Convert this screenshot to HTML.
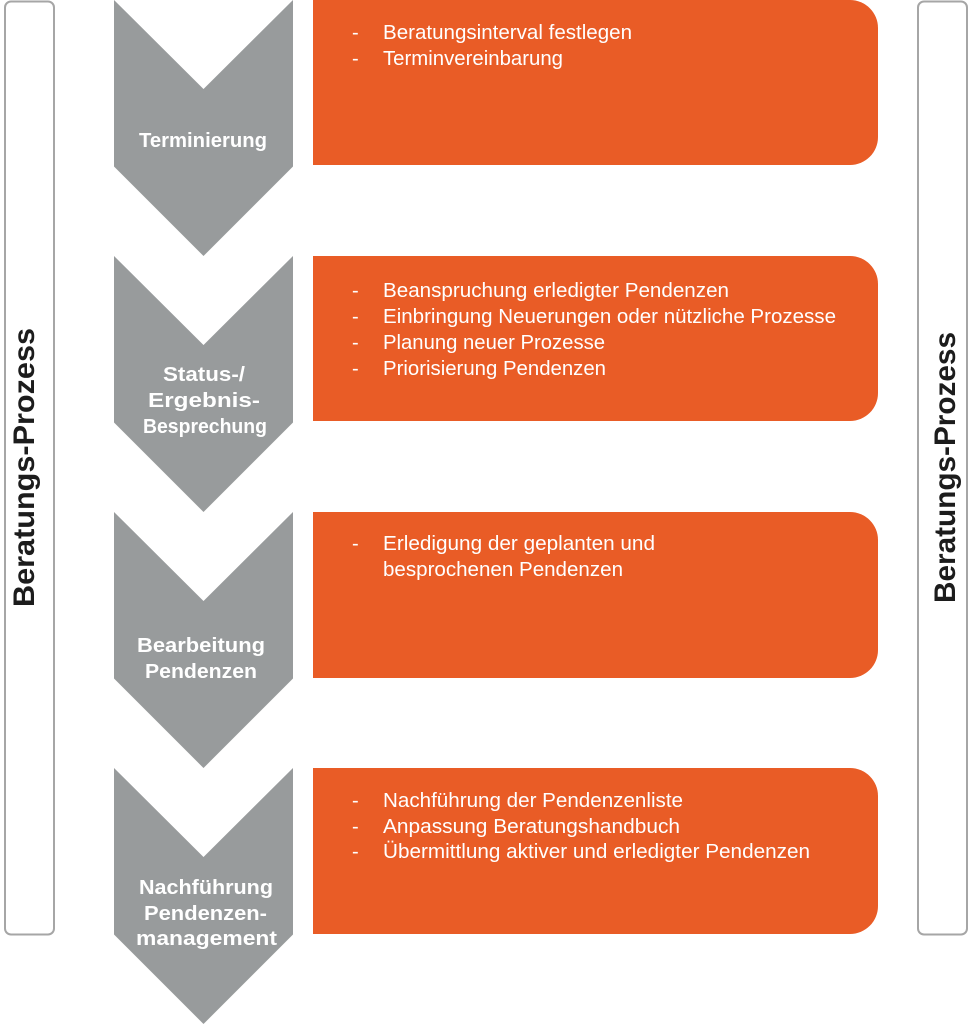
<!DOCTYPE html>
<html>
<head>
<meta charset="utf-8">
<style>
  html, body { margin: 0; padding: 0; background: #ffffff; }
  body { width: 972px; height: 1024px; overflow: hidden; }
  svg { display: block; }
  .o { font-family: "Liberation Sans", sans-serif; font-size: 20px; fill: #ffffff; }
  .l { font-family: "Liberation Sans", sans-serif; font-size: 20px; font-weight: bold; fill: #ffffff; }
  .v { font-family: "Liberation Sans", sans-serif; font-size: 30px; font-weight: bold; fill: #1c1c1c; }
</style>
</head>
<body>
<svg width="972" height="1024" viewBox="0 0 972 1024" xmlns="http://www.w3.org/2000/svg">
  <!-- side frames -->
  <rect x="5" y="1.5" width="49" height="933" rx="6" ry="6" fill="#ffffff" stroke="#a6a6a6" stroke-width="2"/>
  <rect x="918" y="1.5" width="49" height="933" rx="6" ry="6" fill="#ffffff" stroke="#a6a6a6" stroke-width="2"/>

  <text class="v" transform="translate(34,467.5) rotate(-90)" text-anchor="middle" textLength="279" lengthAdjust="spacingAndGlyphs">Beratungs-Prozess</text>
  <text class="v" transform="translate(955,467.5) rotate(-90)" text-anchor="middle" textLength="271" lengthAdjust="spacingAndGlyphs">Beratungs-Prozess</text>

  <!-- chevrons -->
  <g fill="#989b9c">
    <polygon points="114,0 203.5,89 293,0 293,166.5 203.5,256 114,166.5"/>
    <polygon points="114,256 203.5,345 293,256 293,422.5 203.5,512 114,422.5"/>
    <polygon points="114,512 203.5,601 293,512 293,678.5 203.5,768 114,678.5"/>
    <polygon points="114,768 203.5,857 293,768 293,934.5 203.5,1024 114,934.5"/>
  </g>

  <!-- orange boxes -->
  <g fill="#e95c26">
    <path d="M313,0 H850 A28,28 0 0 1 878,28 V137 A28,28 0 0 1 850,165 H313 Z"/>
    <path d="M313,256 H850 A28,28 0 0 1 878,284 V393 A28,28 0 0 1 850,421 H313 Z"/>
    <path d="M313,512 H850 A28,28 0 0 1 878,540 V650 A28,28 0 0 1 850,678 H313 Z"/>
    <path d="M313,768 H850 A28,28 0 0 1 878,796 V906 A28,28 0 0 1 850,934 H313 Z"/>
  </g>

  <!-- chevron labels -->
  <text class="l" x="139" y="147" textLength="128" lengthAdjust="spacingAndGlyphs">Terminierung</text>

  <text class="l" x="163" y="381" textLength="82" lengthAdjust="spacingAndGlyphs">Status-/</text>
  <text class="l" x="148" y="407" textLength="112" lengthAdjust="spacingAndGlyphs">Ergebnis-</text>
  <text class="l" x="143" y="433" textLength="124" lengthAdjust="spacingAndGlyphs">Besprechung</text>

  <text class="l" x="137" y="652" textLength="128" lengthAdjust="spacingAndGlyphs">Bearbeitung</text>
  <text class="l" x="145" y="678" textLength="112" lengthAdjust="spacingAndGlyphs">Pendenzen</text>

  <text class="l" x="139" y="894" textLength="134" lengthAdjust="spacingAndGlyphs">Nachführung</text>
  <text class="l" x="144" y="920" textLength="123" lengthAdjust="spacingAndGlyphs">Pendenzen-</text>
  <text class="l" x="136" y="945" textLength="141" lengthAdjust="spacingAndGlyphs">management</text>

  <!-- box 1 -->
  <text class="o" x="352" y="39">-</text>
  <text class="o" x="383" y="39" textLength="249" lengthAdjust="spacingAndGlyphs">Beratungsinterval festlegen</text>
  <text class="o" x="352" y="65">-</text>
  <text class="o" x="383" y="65" textLength="180" lengthAdjust="spacingAndGlyphs">Terminvereinbarung</text>

  <!-- box 2 -->
  <text class="o" x="352" y="297">-</text>
  <text class="o" x="383" y="297" textLength="346" lengthAdjust="spacingAndGlyphs">Beanspruchung erledigter Pendenzen</text>
  <text class="o" x="352" y="323">-</text>
  <text class="o" x="383" y="323" textLength="453" lengthAdjust="spacingAndGlyphs">Einbringung Neuerungen oder nützliche Prozesse</text>
  <text class="o" x="352" y="349">-</text>
  <text class="o" x="383" y="349" textLength="222" lengthAdjust="spacingAndGlyphs">Planung neuer Prozesse</text>
  <text class="o" x="352" y="375">-</text>
  <text class="o" x="383" y="375" textLength="223" lengthAdjust="spacingAndGlyphs">Priorisierung Pendenzen</text>

  <!-- box 3 -->
  <text class="o" x="352" y="550">-</text>
  <text class="o" x="383" y="550" textLength="272" lengthAdjust="spacingAndGlyphs">Erledigung der geplanten und</text>
  <text class="o" x="383" y="576" textLength="240" lengthAdjust="spacingAndGlyphs">besprochenen Pendenzen</text>

  <!-- box 4 -->
  <text class="o" x="352" y="807">-</text>
  <text class="o" x="383" y="807" textLength="300" lengthAdjust="spacingAndGlyphs">Nachführung der Pendenzenliste</text>
  <text class="o" x="352" y="833">-</text>
  <text class="o" x="383" y="833" textLength="297" lengthAdjust="spacingAndGlyphs">Anpassung Beratungshandbuch</text>
  <text class="o" x="352" y="858">-</text>
  <text class="o" x="383" y="858" textLength="427" lengthAdjust="spacingAndGlyphs">Übermittlung aktiver und erledigter Pendenzen</text>
</svg>
</body>
</html>
